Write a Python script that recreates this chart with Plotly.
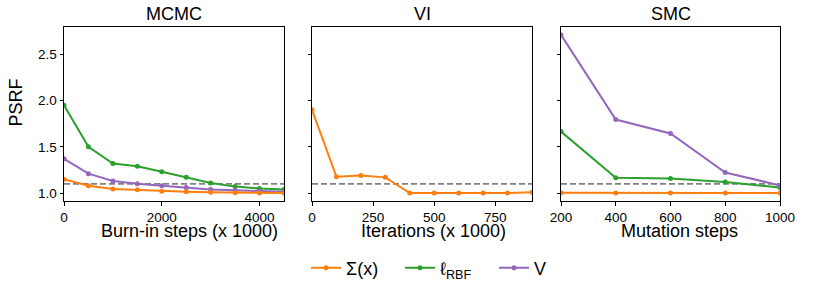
import plotly.graph_objects as go

# ---- data ----
mcmc_x = [0, 500, 1000, 1500, 2000, 2500, 3000, 3500, 4000, 4500]
mcmc_sigma = [1.15, 1.08, 1.045, 1.035, 1.02, 1.015, 1.01, 1.005, 1.0, 1.0]
mcmc_lrbf = [1.95, 1.50, 1.32, 1.29, 1.23, 1.17, 1.11, 1.07, 1.05, 1.04]
mcmc_v = [1.37, 1.21, 1.13, 1.10, 1.08, 1.06, 1.04, 1.03, 1.02, 1.015]

vi_x = [0, 100, 200, 300, 400, 500, 600, 700, 800, 900]
vi_sigma = [1.90, 1.176, 1.19, 1.17, 1.0, 1.0, 1.0, 1.0, 1.0, 1.01]

smc_x = [200, 400, 600, 800, 1000]
smc_sigma = [1.004, 1.0, 1.0, 1.0, 1.0]
smc_lrbf = [1.665, 1.165, 1.158, 1.119, 1.061]
smc_v = [2.71, 1.795, 1.644, 1.223, 1.083]

threshold = 1.1

titles = ["MCMC", "VI", "SMC"]
xlabels = ["Burn-in steps (x 1000)", "Iterations (x 1000)", "Mutation steps"]
ylabel = "PSRF"
series_names = ["Σ(x)", "ℓ<sub>RBF</sub>", "V"]
colors = ["#ff7f0e", "#2ca02c", "#9467bd"]

mcmc_ticks = [0, 2000, 4000]
vi_ticks = [0, 250, 500, 750]
smc_ticks = [200, 400, 600, 800, 1000]
y_ticks = [1.0, 1.5, 2.0, 2.5]
y_tick_text = ["1.0", "1.5", "2.0", "2.5"]

FONT = "Liberation Sans, Arial, sans-serif"

fig = go.Figure()

panels = [
    ("x", "y", mcmc_x, [mcmc_sigma, mcmc_lrbf, mcmc_v]),
    ("x2", "y2", vi_x, [vi_sigma, None, None]),
    ("x3", "y3", smc_x, [smc_sigma, smc_lrbf, smc_v]),
]

# dashed threshold lines
for xa, ya, xs, _ in panels:
    fig.add_trace(go.Scatter(x=[min(xs), max(xs)], y=[threshold, threshold], mode="lines",
                             line=dict(color="#808080", width=1.6, dash="6px,3px"),
                             xaxis=xa, yaxis=ya, showlegend=False, hoverinfo="skip"))

draw_order = [1, 2, 0]
for xa, ya, xs, ser in panels:
    for k in draw_order:
        ys = ser[k]
        if ys is None:
            continue
        fig.add_trace(go.Scatter(
            x=xs, y=ys, mode="lines+markers", name=series_names[k],
            line=dict(color=colors[k], width=2), marker=dict(color=colors[k], size=5),
            xaxis=xa, yaxis=ya, showlegend=(xa == "x"), legendrank=k + 1,
        ))

W, H = 830, 285
L, R, T, B = 64, 50, 27, 83.5
pw = W - L - R
domains = [[0, 220 / pw], [248 / pw, 468 / pw], [497 / pw, 1.0]]
yr = [0.9145, 2.7955]

axis_common = dict(showline=True, linecolor="black", linewidth=1, mirror=True,
                   ticks="outside", ticklen=3.5, tickwidth=1, tickcolor="black",
                   showgrid=False, zeroline=False,
                   tickfont=dict(family=FONT, size=13.5, color="black"))

layout = dict(
    width=W, height=H, margin=dict(l=L, r=R, t=T, b=B),
    plot_bgcolor="white", paper_bgcolor="white",
    font=dict(family=FONT, color="black"),
    xaxis=dict(domain=domains[0], range=[0, 4500], tickvals=mcmc_ticks, anchor="y", **axis_common),
    xaxis2=dict(domain=domains[1], range=[0, 900], tickvals=vi_ticks, anchor="y2", **axis_common),
    xaxis3=dict(domain=domains[2], range=[200, 1000], tickvals=smc_ticks, anchor="y3", **axis_common),
    yaxis=dict(range=yr, tickvals=y_ticks, ticktext=y_tick_text, anchor="x", **axis_common),
    yaxis2=dict(range=yr, tickvals=y_ticks, showticklabels=False, anchor="x2", **axis_common),
    yaxis3=dict(range=yr, tickvals=y_ticks, showticklabels=False, anchor="x3", **axis_common),
    showlegend=True,
    legend=dict(orientation="h", x=0.535, xanchor="center",
                yref="container", y=1 - 268 / H, yanchor="middle",
                font=dict(family=FONT, size=18, color="black"),
                entrywidth=49, entrywidthmode="pixels", itemwidth=30,
                bgcolor="rgba(0,0,0,0)"),
)
fig.update_layout(**layout)

# titles and axis labels
label_offsets = [15, 11, 9]
for i, (t, xl) in enumerate(zip(titles, xlabels)):
    cx = (domains[i][0] + domains[i][1]) / 2
    fig.add_annotation(text=t, xref="paper", yref="paper", x=cx, y=1.0, xanchor="center",
                       yanchor="bottom", showarrow=False, yshift=1,
                       font=dict(family=FONT, size=18, color="black"))
    fig.add_annotation(text=xl, xref="paper", yref="paper", x=cx, y=0, xanchor="center",
                       yanchor="middle", showarrow=False, xshift=label_offsets[i], yshift=-30,
                       font=dict(family=FONT, size=18, color="black"))
fig.add_annotation(text=ylabel, xref="paper", yref="paper", x=0, y=0.5, xanchor="center",
                   yanchor="middle", textangle=-90, showarrow=False, xshift=-48.5, yshift=11,
                   font=dict(family=FONT, size=18, color="black"))

fig.write_html("out.html", config={"displayModeBar": False},
               post_script="document.body.style.margin='0';document.body.style.overflow='hidden';")
